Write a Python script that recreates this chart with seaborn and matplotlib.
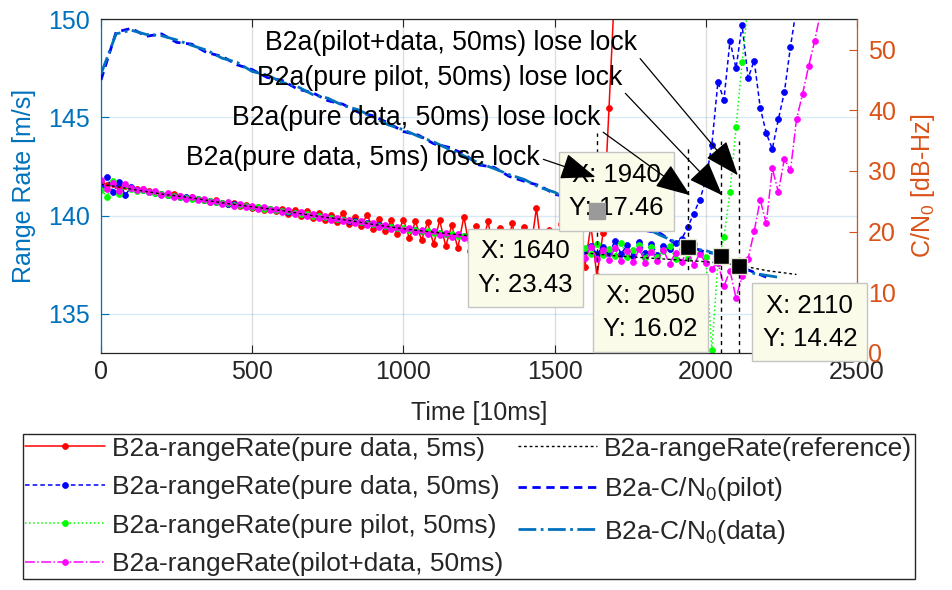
import numpy as np
import matplotlib
matplotlib.use('Agg')
import matplotlib.pyplot as plt
import seaborn as sns

# ── data (time in units of 10 ms) ────────────────────────────────────────────
STEP = 20  # range-rate samples read every 20 x 10ms

rr_data5 = [
    141.70, 141.55, 141.62, 141.48, 141.52, 141.40, 141.33, 141.38, 141.25, 141.20,
    141.12, 141.05, 141.10, 140.98, 140.92, 140.95, 140.85, 140.80, 140.70, 140.78,
    140.62, 140.58, 140.65, 140.48, 140.52, 140.40, 140.46, 140.30, 140.35, 140.22,
    140.35, 140.10, 140.28, 139.98, 140.22, 139.90, 140.15, 139.75, 140.05, 139.65,
    140.15, 139.55, 139.95, 139.45, 140.05, 139.30, 139.85, 139.20, 139.75, 139.05,
    139.80, 138.85, 139.70, 138.75, 139.65, 138.55, 139.75, 138.45, 139.50, 138.35,
    139.95, 138.20, 139.45, 138.50, 139.70, 138.05, 139.35, 138.25, 139.60, 137.95,
    139.40, 138.15, 140.40, 137.85, 139.25, 138.05, 139.55, 137.65, 139.05, 140.65,
    137.40, 139.50, 136.90, 139.10, 145.50, 152.00,
]

rr_data50 = [
    141.50, 141.95, 141.20, 141.70, 141.05, 141.45, 141.30, 141.28, 141.22, 141.15,
    141.12, 141.05, 141.02, 140.96, 140.93, 140.88, 140.85, 140.78, 140.76, 140.70,
    140.66, 140.60, 140.58, 140.52, 140.49, 140.45, 140.40, 140.38, 140.32, 140.28,
    140.25, 140.20, 140.15, 140.12, 140.05, 140.02, 139.96, 139.93, 139.88, 139.84,
    139.80, 139.74, 139.72, 139.65, 139.60, 139.56, 139.50, 139.47, 139.42, 139.38,
    139.33, 139.30, 139.26, 139.22, 139.18, 139.15, 139.10, 139.08, 139.03, 139.00,
    138.96, 138.92, 138.88, 138.86, 138.80, 138.78, 138.72, 138.70, 138.62, 138.60,
    138.55, 138.50, 138.48, 138.40, 138.38, 138.35, 138.42, 138.25, 138.30, 138.15,
    138.20, 138.45, 138.05, 138.40, 138.10, 138.70, 138.05, 138.50, 137.95, 138.65,
    138.10, 138.55, 138.00, 138.45, 138.30, 138.60, 138.80, 139.40, 140.10, 140.80,
    141.80, 143.60, 146.80, 145.90, 148.90, 147.50, 149.70, 147.00, 147.90, 145.50,
    144.20, 143.40, 144.90, 146.30, 148.60, 150.60,
]

rr_pilot50 = [
    141.30, 140.95, 141.75, 141.10, 141.55, 141.35, 141.25, 141.30, 141.18, 141.16,
    141.08, 141.06, 140.98, 140.97, 140.90, 140.86, 140.82, 140.80, 140.72, 140.71,
    140.64, 140.62, 140.55, 140.53, 140.47, 140.44, 140.42, 140.35, 140.33, 140.27,
    140.24, 140.22, 140.14, 140.10, 140.07, 140.00, 139.98, 139.91, 139.90, 139.82,
    139.78, 139.76, 139.68, 139.66, 139.58, 139.57, 139.49, 139.45, 139.40, 139.36,
    139.35, 139.28, 139.27, 139.20, 139.19, 139.13, 139.12, 139.05, 139.04, 138.98,
    138.97, 138.90, 138.90, 138.82, 138.82, 138.74, 138.73, 138.65, 138.64, 138.57,
    138.56, 138.48, 138.52, 138.38, 138.44, 138.30, 138.45, 138.20, 138.38, 138.12,
    138.35, 138.02, 138.55, 138.00, 138.30, 137.95, 138.60, 137.90, 138.25, 138.50,
    137.85, 138.40, 137.90, 138.20, 138.45, 137.80, 138.30, 137.85, 138.55, 138.10,
    137.90, 133.15, 137.60, 138.90, 141.20, 144.50, 147.80, 150.80,
]

rr_both50 = [
    141.80, 141.35, 141.65, 141.25, 141.60, 141.42, 141.28, 141.36, 141.20, 141.24,
    141.06, 141.14, 140.96, 141.02, 140.86, 140.94, 140.78, 140.84, 140.68, 140.76,
    140.60, 140.68, 140.50, 140.58, 140.42, 140.50, 140.35, 140.42, 140.26, 140.34,
    140.16, 140.26, 140.06, 140.16, 139.98, 140.06, 139.88, 139.98, 139.80, 139.88,
    139.72, 139.80, 139.60, 139.70, 139.50, 139.60, 139.42, 139.52, 139.32, 139.44,
    139.25, 139.38, 139.16, 139.28, 139.08, 139.20, 139.00, 139.12, 138.92, 139.06,
    138.85, 139.00, 138.76, 138.92, 138.66, 138.82, 138.56, 138.72, 138.46, 138.62,
    138.38, 138.52, 138.28, 138.44, 138.18, 138.36, 138.08, 138.28, 138.00, 138.30,
    137.85, 138.40, 137.80, 138.25, 137.75, 138.35, 137.70, 138.20, 137.65, 138.30,
    137.60, 138.15, 137.70, 138.25, 137.55, 138.10, 137.65, 138.20, 137.50, 138.05,
    137.60, 137.30, 137.60, 136.40, 137.20, 135.80, 136.90, 137.80, 139.20, 140.80,
    139.60, 142.40, 141.20, 142.90, 142.30, 144.90, 146.20, 147.60, 148.90, 150.40,
]

t_ref = [0, 100, 200, 300, 400, 500, 600, 700, 800, 900, 1000, 1100,
         1200, 1300, 1400, 1500, 1600, 1700, 1800, 1900, 2000, 2100, 2200, 2300]
rr_ref = [141.60, 141.35, 141.10, 140.90, 140.65, 140.45, 140.25, 140.00,
          139.80, 139.55, 139.33, 139.15, 139.00, 138.80, 138.55, 138.35,
          138.10, 137.95, 137.85, 137.75, 137.65, 137.50, 137.20, 137.00]

CN0_STEP = 50
cn0_data = [
    46.0, 52.6, 53.2, 52.5, 52.3, 51.6, 50.7, 49.9, 48.6, 47.9,
    46.4, 45.8, 44.6, 43.9, 42.6, 42.0, 40.8, 40.1, 38.9, 37.6,
    36.8, 35.7, 34.8, 33.6, 32.5, 31.3, 30.4, 29.4, 28.6, 27.3,
    26.5, 25.2, 24.3, 23.2, 22.4, 21.3, 20.6, 19.4, 18.3, 17.2,
    16.9, 16.0, 14.7, 13.2, 12.8, 12.4,
]
cn0_pilot = [
    45.0, 52.9, 53.5, 52.2, 52.6, 51.2, 50.9, 49.5, 48.9, 47.5,
    46.7, 45.4, 44.9, 43.5, 42.9, 41.6, 41.0, 39.7, 39.1, 37.9,
    36.5, 35.9, 34.5, 33.9, 32.8, 31.0, 30.6, 29.1, 28.3, 27.6,
    26.2, 25.5, 24.0, 23.5, 22.1, 21.6, 20.2, 19.7, 18.0, 17.5,
    16.6, 16.3, 14.4, 13.5, 12.5,
]

# lose-lock instants and C/N0 read by the data tips
lock_x = [1640, 1940, 2050, 2110]
lock_cn0 = [23.43, 17.46, 16.02, 14.42]
vline_top = [36.2, 34.0, 35.0, 35.0]

notes = ["B2a(pure data, 5ms) lose lock", "B2a(pure data, 50ms) lose lock",
         "B2a(pure pilot, 50ms) lose lock", "B2a(pilot+data, 50ms) lose lock"]
note_tip = [(1635, 29.0), (1948, 26.0), (2054, 26.0), (2106, 29.3)]
note_txt = [(1452, 32.1), (1650, 38.7), (1723, 45.3), (1772, 51.1)]
note_rel = [(1, 0.5), (1, 0.05), (1, 0.05), (1, 0.05)]
tip_offset = [(-51.5, -41), (-51.5, 40), (-51, -41), (51, -41)]

BLUE_AX = '#0072BD'
ORANGE_AX = '#D95319'
DARK = '#262626'

sns.set_style('white')
plt.rcParams['font.family'] = ['Liberation Sans', 'DejaVu Sans']
plt.rcParams['mathtext.fontset'] = 'custom'
plt.rcParams['mathtext.rm'] = 'Liberation Sans'
plt.rcParams['mathtext.default'] = 'regular'

fig = plt.figure(figsize=(9.52, 5.90), dpi=100)
ax = fig.add_axes([0.1061, 0.4017, 0.7941, 0.5656])
ax2 = ax.twinx()

# ── range rate (left axis) ───────────────────────────────────────────────────
series = [
    (rr_data5, '#FF0000', '-', 'B2a-rangeRate(pure data, 5ms)'),
    (rr_data50, '#0000FF', (0, (3, 2)), 'B2a-rangeRate(pure data, 50ms)'),
    (rr_pilot50, '#00FF00', ':', 'B2a-rangeRate(pure pilot, 50ms)'),
    (rr_both50, '#FF00FF', '-.', 'B2a-rangeRate(pilot+data, 50ms)'),
]
handles = []
for vals, col, ls, lab in series:
    t = np.arange(len(vals)) * STEP
    sns.lineplot(x=t, y=vals, ax=ax, color=col, linestyle=ls, lw=1.1,
                 marker='o', ms=4.3, mec=col, mew=0.5, legend=False)
    ax.lines[-1].set_label(lab)
    handles.append(ax.lines[-1])

sns.lineplot(x=t_ref, y=rr_ref, ax=ax, color='black', linestyle=(0, (2, 2)),
             lw=1, legend=False)
ax.lines[-1].set_label('B2a-rangeRate(reference)')
handles.append(ax.lines[-1])

# ── C/N0 (right axis) ────────────────────────────────────────────────────────
sns.lineplot(x=np.arange(len(cn0_pilot)) * CN0_STEP, y=cn0_pilot, ax=ax2,
             color='#0000FF', linestyle=(0, (3, 2)), lw=2, legend=False)
ax2.lines[-1].set_label('B2a-C/N$_0$(pilot)')
handles.append(ax2.lines[-1])
sns.lineplot(x=np.arange(len(cn0_data)) * CN0_STEP, y=cn0_data, ax=ax2,
             color=BLUE_AX, linestyle='-.', lw=2, legend=False)
ax2.lines[-1].set_label('B2a-C/N$_0$(data)')
handles.append(ax2.lines[-1])

ax2.vlines(lock_x, 0, vline_top, colors='black', linestyles=(0, (3, 3)), lw=1)

# data tips
for (x, y), off in zip(zip(lock_x, lock_cn0), tip_offset):
    ax2.annotate(f"X: {x}\nY: {y:.2f}", xy=(x, y), xytext=off,
                 textcoords='offset points', ha='center', va='center',
                 fontsize=18.5, linespacing=1.5, color='black', zorder=6,
                 bbox=dict(boxstyle='square,pad=0.4', fc='#FBFBE9',
                           ec='#C4C4C4', lw=1))
ax2.plot(lock_x[1:], lock_cn0[1:], 's', color='black', ms=11,
         mec='#E6E6D2', mew=1, zorder=7, clip_on=False)
ax2.plot(lock_x[:1], lock_cn0[:1], 's', color='#9A9A9A', ms=11,
         mec='#9A9A9A', zorder=7)

# lose-lock arrows
for txt, tip, pos, rel in zip(notes, note_tip, note_txt, note_rel):
    ax2.annotate(txt, xy=tip, xytext=pos, ha='right', va='center',
                 fontsize=19.2, color='black', zorder=8,
                 arrowprops=dict(arrowstyle='-|>,head_length=1.0,head_width=0.38',
                                 mutation_scale=22, color='black', lw=0.9,
                                 shrinkA=0, shrinkB=0, relpos=rel))

# ── axes cosmetics ───────────────────────────────────────────────────────────
ax.set_xlim(0, 2500)
ax.set_ylim(133, 150)
ax2.set_ylim(0, 55)
ax.set_xticks([0, 500, 1000, 1500, 2000, 2500])
ax.set_yticks([135, 140, 145, 150])
ax2.set_yticks([0, 10, 20, 30, 40, 50])

ax.grid(axis='x', color=DARK, alpha=0.15, lw=1)
ax.grid(axis='y', color=BLUE_AX, alpha=0.15, lw=1)

ax.tick_params(axis='x', direction='in', top=True, bottom=True, length=6,
               width=0.8, color=DARK, labelcolor=DARK, labelsize=18, pad=5)
ax.tick_params(axis='y', direction='in', left=True, right=False, length=6,
               width=0.8, color=BLUE_AX, labelcolor=BLUE_AX, labelsize=18, pad=8)
ax2.tick_params(axis='y', direction='in', right=True, length=6, width=0.8,
                color=ORANGE_AX, labelcolor=ORANGE_AX, labelsize=18, pad=8)

for s in ['top', 'bottom']:
    ax.spines[s].set_color(DARK)
    ax.spines[s].set_linewidth(0.9)
    ax2.spines[s].set_visible(False)
ax.spines['left'].set_color(BLUE_AX)
ax.spines['left'].set_linewidth(0.9)
ax.spines['right'].set_visible(False)
ax2.spines['left'].set_visible(False)
ax2.spines['right'].set_color(ORANGE_AX)
ax2.spines['right'].set_linewidth(0.9)

ax.set_xlabel('Time [10ms]', fontsize=18, color=DARK, labelpad=12)
ax.set_ylabel('Range Rate [m/s]', fontsize=18, color=BLUE_AX, labelpad=9)
ax2.set_ylabel('C/N$_0$ [dB-Hz]', fontsize=18, color=ORANGE_AX, labelpad=9)

leg = fig.legend(handles=handles, labels=[h.get_label() for h in handles],
                 ncol=2, loc='upper left', bbox_to_anchor=(0.024, 0.2644),
                 bbox_transform=fig.transFigure, fontsize=19, frameon=True,
                 fancybox=False, edgecolor=DARK, handlelength=3.0,
                 handletextpad=0.28, columnspacing=0.55, labelspacing=0.55,
                 borderpad=0.1, borderaxespad=0, numpoints=1)
leg.get_frame().set_linewidth(1)
leg.get_frame().set_alpha(1)

fig.savefig('out.png', dpi=100)
